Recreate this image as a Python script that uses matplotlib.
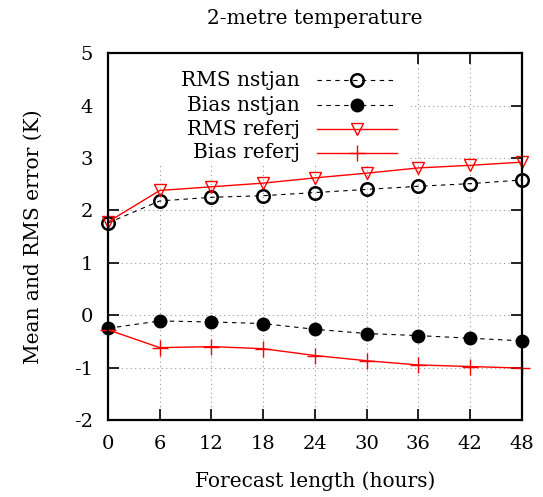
import numpy as np
import matplotlib
matplotlib.use("Agg")
import matplotlib.pyplot as plt
from matplotlib.lines import Line2D
from matplotlib.patches import Rectangle

# forecast length (hours)
hours = [0, 6, 12, 18, 24, 30, 36, 42, 48]

# 2-metre temperature scores (K)
rms_nstjan = [1.76, 2.18, 2.25, 2.28, 2.34, 2.40, 2.46, 2.51, 2.58]
bias_nstjan = [-0.25, -0.11, -0.13, -0.16, -0.27, -0.35, -0.39, -0.44, -0.49]
rms_referj = [1.78, 2.38, 2.45, 2.52, 2.62, 2.71, 2.81, 2.86, 2.92]
bias_referj = [-0.28, -0.62, -0.60, -0.64, -0.77, -0.87, -0.95, -0.98, -1.01]

labels = ['RMS nstjan', 'Bias nstjan', 'RMS referj', 'Bias referj']

plt.rcParams['font.family'] = ['DejaVu Serif']
plt.rcParams['axes.unicode_minus'] = False

fig = plt.figure(figsize=(5.43, 4.97), dpi=100)
ax = fig.add_axes([0.199, 0.155, 0.762, 0.738])

dash = (0, (4, 4))
styles = [
    dict(color='black', linestyle=dash, linewidth=0.8, marker='o', markersize=9,
         markerfacecolor='none', markeredgewidth=1.8),
    dict(color='black', linestyle=dash, linewidth=0.8, marker='o', markersize=9,
         markerfacecolor='black'),
    dict(color='red', linestyle='-', linewidth=1.0, marker='v', markersize=9,
         markerfacecolor='none', markeredgewidth=1.0),
    dict(color='red', linestyle='-', linewidth=1.0, marker='+', markersize=11,
         markeredgewidth=1.0),
]
series = [rms_nstjan, bias_nstjan, rms_referj, bias_referj]
for vals, st, lab in zip(series, styles, labels):
    ax.plot(hours, vals, label=lab, zorder=4, clip_on=False, **st)

ax.set_xlim(0, 48)
ax.set_ylim(-2, 5)
ax.set_xticks(hours)
ax.set_yticks(range(-2, 6))

ax.grid(True, color='#999999', linestyle=(0, (1, 3)), linewidth=0.8)
ax.tick_params(direction='in', length=8, width=1.2, top=True, right=True,
               labelsize=14, pad=11)
for s in ax.spines.values():
    s.set_linewidth(1.6)
    s.set_zorder(6)

ax.set_xlabel('Forecast length (hours)', fontsize=14.5, labelpad=13)
ax.set_ylabel('Mean and RMS error (K)', fontsize=14.5, labelpad=22)
ax.set_title('2-metre temperature', fontsize=14.5, pad=21)

# gnuplot style key: white box, right-aligned text, sample line to the right
ax.add_patch(Rectangle((0, 0.695), 0.73, 0.305, transform=ax.transAxes,
                       facecolor='white', edgecolor='none', zorder=3))
rows = [0.926, 0.858, 0.793, 0.728]
for y, st, lab in zip(rows, styles, labels):
    ax.text(0.464, y, lab, transform=ax.transAxes, ha='right', va='center',
            fontsize=14.5, zorder=5)
    ax.add_line(Line2D([0.505, 0.698], [y, y], transform=ax.transAxes,
                       zorder=5, **{k: v for k, v in st.items() if k != 'marker'}
                       | {'marker': 'None'}))
    ax.add_line(Line2D([0.602], [y], transform=ax.transAxes, zorder=5,
                       **st))

fig.savefig('out.png', dpi=100)
